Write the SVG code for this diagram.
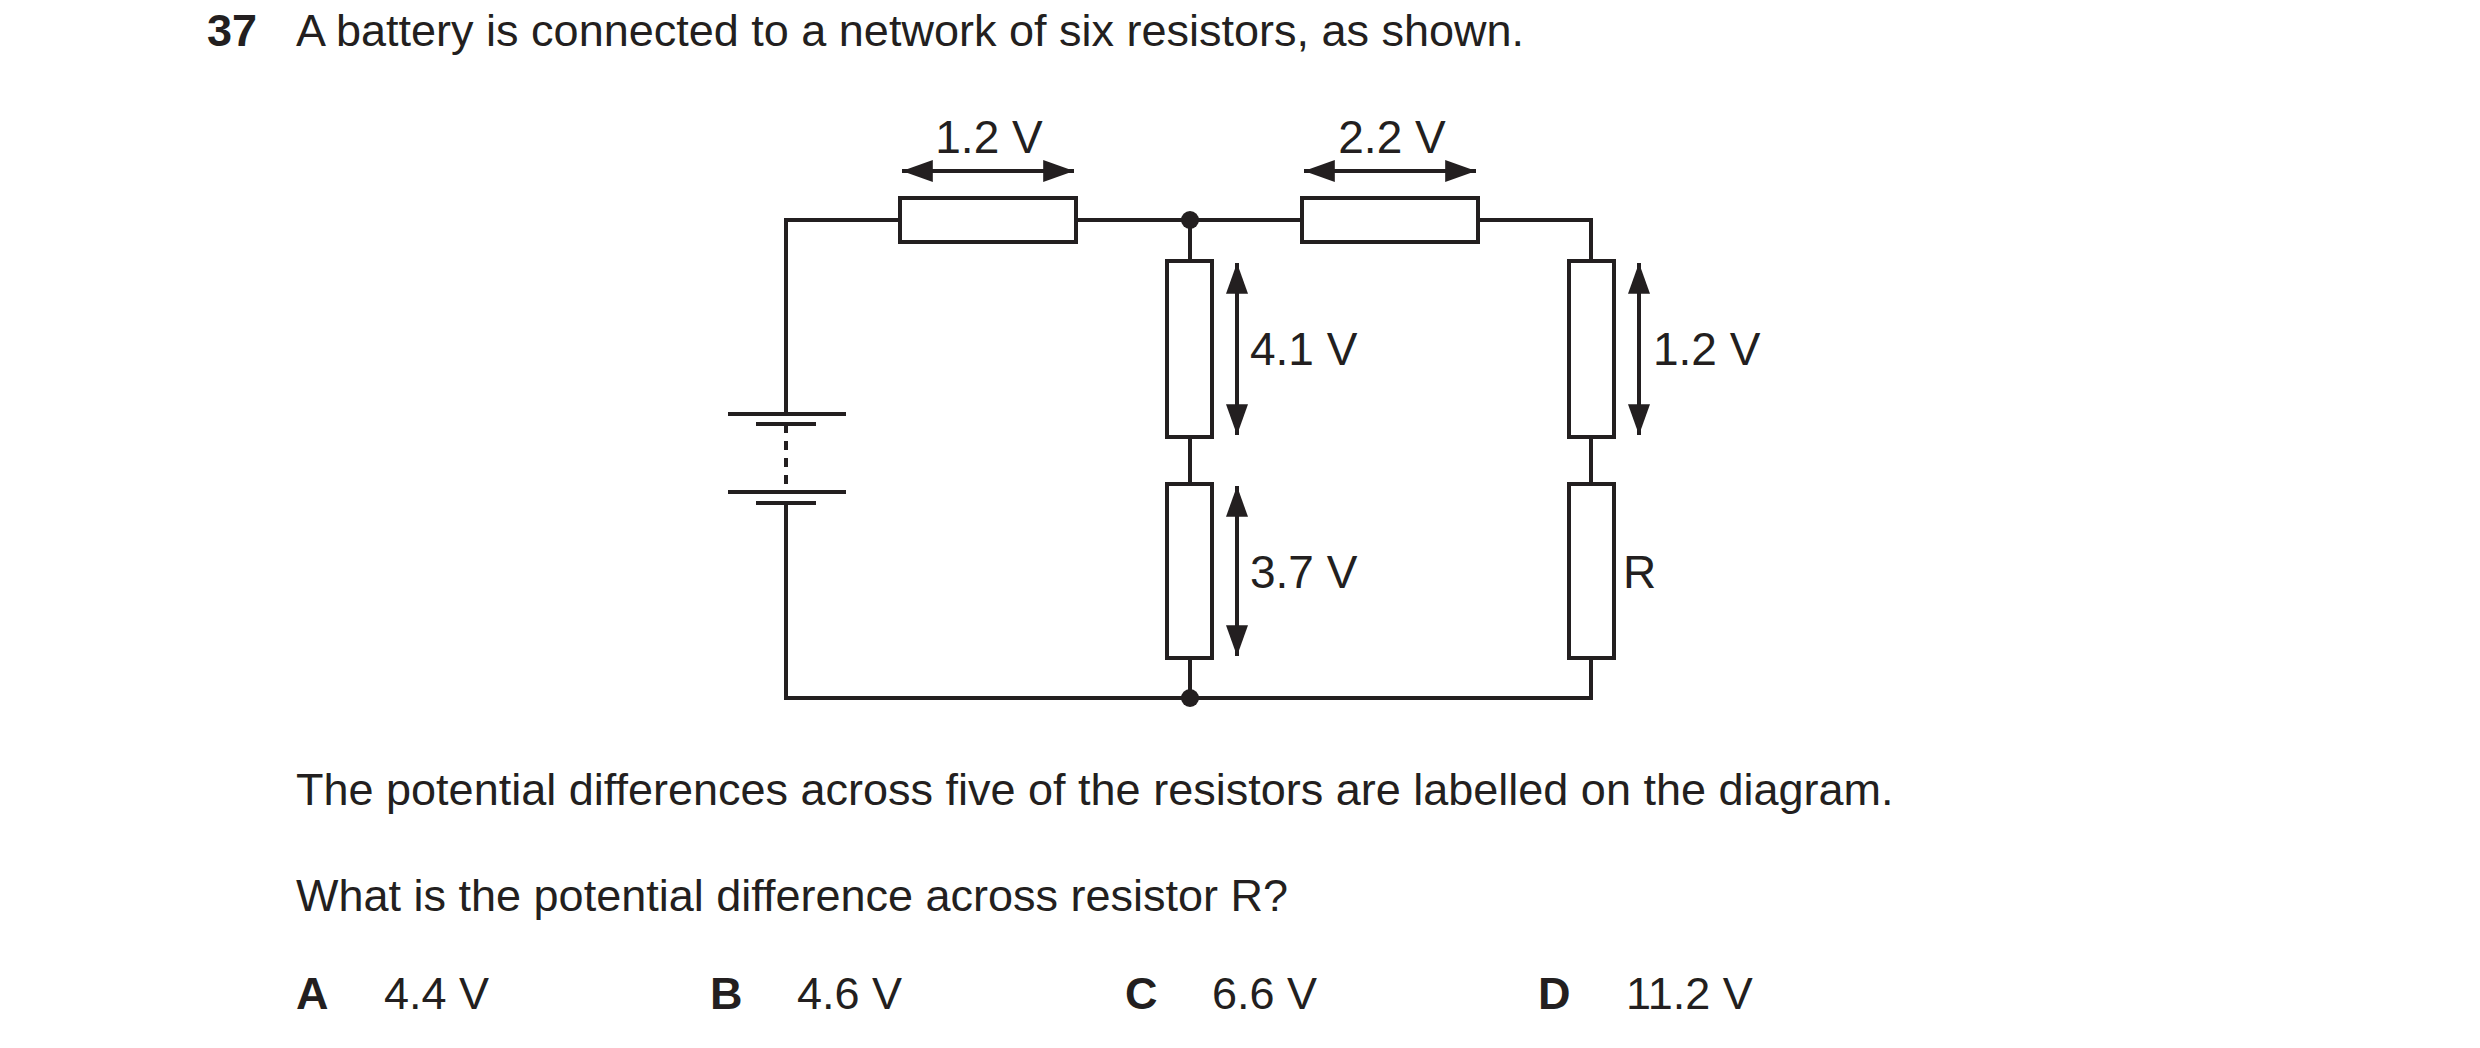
<svg xmlns="http://www.w3.org/2000/svg" width="2480" height="1048" viewBox="0 0 2480 1048">
<defs>
<marker id="ah" viewBox="0 0 14 10" refX="14" refY="5" markerWidth="10" markerHeight="5.5" markerUnits="strokeWidth" orient="auto-start-reverse"><path d="M0,0 L14,5 L0,10 z" fill="#231f20"/></marker>
</defs>
<style>
.w{stroke:#231f20;stroke-width:4;fill:none}
.r{stroke:#231f20;stroke-width:4;fill:#fff}
.a{stroke:#231f20;stroke-width:4;fill:none;marker-start:url(#ah);marker-end:url(#ah)}
text{font-family:"Liberation Sans",Arial,sans-serif;fill:#231f20}
.l{font-size:46px}
.t{font-size:45px}
.b{font-weight:bold}
</style>
<rect width="2480" height="1048" fill="#fff"/>
<text class="t b" x="207" y="46">37</text>
<text class="t" x="296" y="46">A battery is connected to a network of six resistors, as shown.</text>
<g id="connectors">
<path class="w" d="M786,414 V220 H1591 V698 H786 V503"/>
<path class="w" d="M1190,220 V698"/>
<path class="w" d="M786,424 V492" stroke-dasharray="9,8"/>
<line class="w" x1="728" y1="414" x2="846" y2="414"/>
<line class="w" x1="756" y1="424" x2="816" y2="424" stroke-width="5"/>
<line class="w" x1="728" y1="492" x2="846" y2="492"/>
<line class="w" x1="756" y1="503" x2="816" y2="503" stroke-width="5"/>
<circle cx="1190" cy="220" r="9" fill="#231f20"/>
<circle cx="1190" cy="698" r="9" fill="#231f20"/>
<line class="a" x1="902" y1="171" x2="1074" y2="171"/>
<line class="a" x1="1304" y1="171" x2="1476" y2="171"/>
<line class="a" x1="1237" y1="263" x2="1237" y2="435"/>
<line class="a" x1="1237" y1="486" x2="1237" y2="656"/>
<line class="a" x1="1639" y1="263" x2="1639" y2="435"/>
</g>
<g id="r1"><rect class="r" x="900" y="198" width="176" height="44"/><text class="l" x="989" y="153" text-anchor="middle">1.2 V</text></g>
<g id="r2"><rect class="r" x="1302" y="198" width="176" height="44"/><text class="l" x="1392" y="153" text-anchor="middle">2.2 V</text></g>
<g id="r3"><rect class="r" x="1167" y="261" width="45" height="176"/><text class="l" x="1250" y="365">4.1 V</text></g>
<g id="r4"><rect class="r" x="1167" y="484" width="45" height="174"/><text class="l" x="1250" y="588">3.7 V</text></g>
<g id="r5"><rect class="r" x="1569" y="261" width="45" height="176"/><text class="l" x="1653" y="365">1.2 V</text></g>
<g id="r6"><rect class="r" x="1569" y="484" width="45" height="174"/><text class="l" x="1623" y="588">R</text></g>
<text class="t" x="296" y="805">The potential differences across five of the resistors are labelled on the diagram.</text>
<text class="t" x="296" y="911">What is the potential difference across resistor R?</text>
<text class="t b" x="296" y="1009">A</text><text class="t" x="384" y="1009">4.4 V</text>
<text class="t b" x="710" y="1009">B</text><text class="t" x="797" y="1009">4.6 V</text>
<text class="t b" x="1125" y="1009">C</text><text class="t" x="1212" y="1009">6.6 V</text>
<text class="t b" x="1538" y="1009">D</text><text class="t" x="1626" y="1009">11.2 V</text>
</svg>
